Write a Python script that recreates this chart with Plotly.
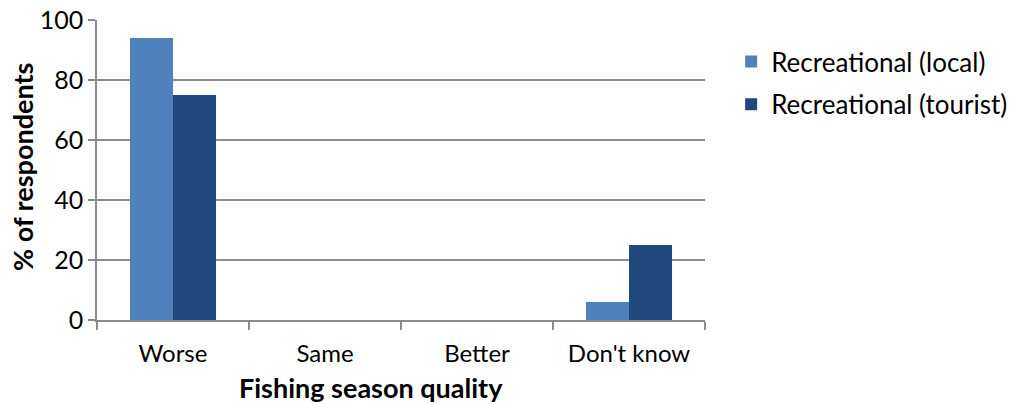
import plotly.graph_objects as go

categories = ["Worse", "Same", "Better", "Don't know"]
local_values = [94, 0, 0, 6]
tourist_values = [75, 0, 0, 25]
y_ticks = [0, 20, 40, 60, 80, 100]

FONT = "Lato, 'Open Sans', sans-serif"
GRID = "#8c8c8c"

fig = go.Figure()
fig.add_trace(go.Bar(
    x=categories, y=local_values, name="Recreational (local)",
    marker=dict(color="#4F81BD", line=dict(width=0)), legendgroup="a",
))
fig.add_trace(go.Bar(
    x=categories, y=tourist_values, name="Recreational (tourist)",
    marker=dict(color="#1F497D", line=dict(width=0)), legendgroup="b",
))

fig.update_layout(
    width=1013, height=404,
    margin=dict(l=97, r=308, t=20, b=84, autoexpand=False),
    paper_bgcolor="white", plot_bgcolor="white",
    barmode="group", bargap=0.434, bargroupgap=0,
    font=dict(family=FONT, color="#000000", size=24),
    legend=dict(
        x=1.043, xanchor="left", y=0.94, yanchor="top",
        font=dict(size=26, family=FONT, color="#000000"), tracegroupgap=6,
        traceorder="grouped", bgcolor="rgba(0,0,0,0)",
    ),
    showlegend=True,
)
fig.update_xaxes(
    automargin=False,
    showline=True, linecolor=GRID, linewidth=1.5,
    ticks="outside", tickson="boundaries", ticklen=8, tickcolor=GRID, tickwidth=1.5,
    tickfont=dict(size=24), showgrid=False, ticklabelstandoff=11,
)
fig.update_yaxes(
    automargin=False,
    range=[0, 100], tickvals=y_ticks,
    showline=True, linecolor=GRID, linewidth=1.5,
    ticks="outside", ticklen=7, tickcolor=GRID, tickwidth=1.5,
    showgrid=True, gridcolor=GRID, gridwidth=1.5,
    zeroline=False, tickfont=dict(size=25),
)

# axis titles as annotations for precise placement
fig.add_annotation(
    text="<b>Fishing season quality</b>", font=dict(size=27, family=FONT),
    xref="paper", yref="paper", x=0.4507, y=0, xanchor="center", yanchor="middle",
    yshift=-67, showarrow=False,
)
fig.add_annotation(
    text="<b>% of respondents</b>", font=dict(size=27, family=FONT),
    xref="paper", yref="paper", x=-0.1234, y=0.5, xanchor="center", yanchor="middle",
    yshift=3, textangle=-90, showarrow=False,
)

fig.write_html("out.html")
